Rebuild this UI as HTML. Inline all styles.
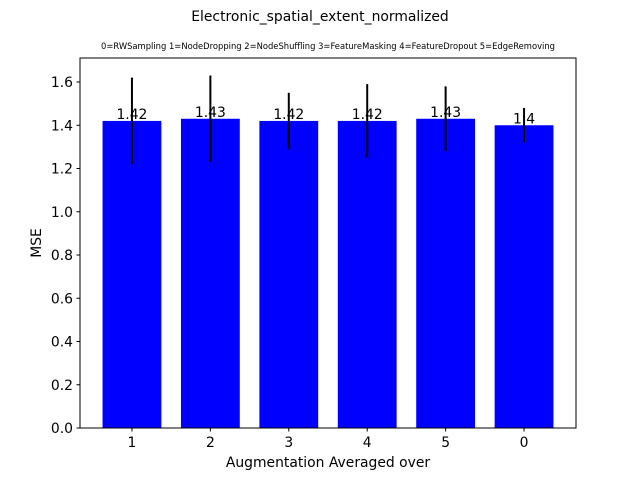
<!DOCTYPE html>
<html><head><meta charset="utf-8"><style>
body{margin:0;background:#fff;}
text{font-family:"DejaVu Sans","Liberation Sans",sans-serif;}
</style></head><body>
<svg id="chart" width="640" height="480" xmlns="http://www.w3.org/2000/svg">
<rect width="640" height="480" fill="#fff"/>
<text x="320" y="21" font-size="13.9" text-anchor="middle">Electronic_spatial_extent_normalized</text>
<text x="328" y="49" font-size="8.4" text-anchor="middle">0=RWSampling 1=NodeDropping 2=NodeShuffling 3=FeatureMasking 4=FeatureDropout 5=EdgeRemoving</text>
<g id="plot"></g>
<rect x="80" y="58" width="496" height="370" fill="none" stroke="#000" stroke-width="1"/>
<text x="328" y="467" font-size="13.9" text-anchor="middle">Augmentation Averaged over</text>
<text transform="translate(41,243) rotate(-90)" font-size="13.9" text-anchor="middle">MSE</text>
</svg>
<script>
const categories=["1","2","3","4","5","0"];
const values=[1.42,1.43,1.42,1.42,1.43,1.40];
const labels=["1.42","1.43","1.42","1.42","1.43","1.4"];
const errors=[0.20,0.20,0.13,0.17,0.15,0.08];
const yTicks=[0,0.2,0.4,0.6,0.8,1.0,1.2,1.4,1.6];
const NS="http://www.w3.org/2000/svg";
const g=document.getElementById('plot');
const x0=80,x1=576,y0=428,y1=58,yMax=1.711;
const n=categories.length;
const xmin=-0.6625,xmax=n-1+0.6625;
const xs=i=>x0+(i-xmin)/(xmax-xmin)*(x1-x0);
const ys=v=>y0-v/yMax*(y0-y1);
const unit=(x1-x0)/(xmax-xmin);
function mk(t,a){const e=document.createElementNS(NS,t);for(const k in a)e.setAttribute(k,a[k]);g.appendChild(e);return e;}
yTicks.forEach(v=>{
 const y=ys(v);
 const t=mk('line',{x1:x0-3.5,x2:x0,y1:y,y2:y,stroke:'#000'});
 
 
 const l=mk('text',{x:x0-7,y:y+5,'font-size':13.9,'text-anchor':'end'});
 l.textContent=v.toFixed(1);
 
 
});
categories.forEach((c,i)=>{
 const cx=xs(i),w=0.75*unit;
 const b=mk('rect',{x:cx-w/2,y:ys(values[i]),width:w,height:y0-ys(values[i]),fill:'#0000ff'});
 
 
 const e=mk('line',{x1:cx,x2:cx,y1:ys(values[i]+errors[i]),y2:ys(values[i]-errors[i]),stroke:'#000','stroke-width':2});
 
 
 const vl=mk('text',{x:cx,y:ys(values[i])-2,'font-size':13.9,'text-anchor':'middle'});
 vl.textContent=labels[i];
 
 
 const t=mk('line',{x1:cx,x2:cx,y1:y0,y2:y0+3.5,stroke:'#000'});
 
 
 const tl=mk('text',{x:cx,y:y0+19,'font-size':13.9,'text-anchor':'middle'});
 tl.textContent=c;
 
 
});
</script>
</body></html>
